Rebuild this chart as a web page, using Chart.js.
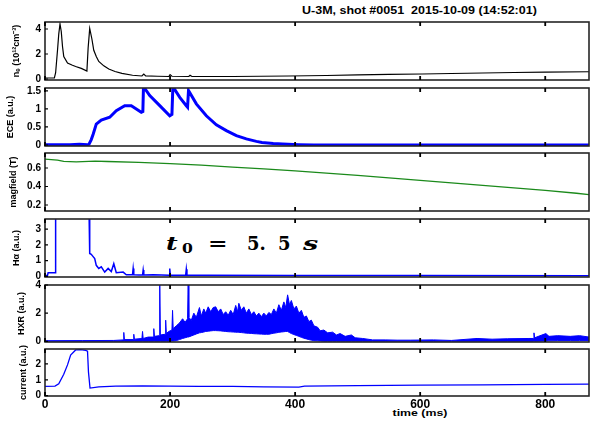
<!DOCTYPE html>
<html><head><meta charset="utf-8">
<script src="https://cdn.jsdelivr.net/npm/chart.js@4.4.1/dist/chart.umd.min.js"></script>
<style>
html,body{margin:0;padding:0;background:#fff;}
#wrap{position:relative;width:591px;height:421px;overflow:hidden;background:#fff;}
#wrap canvas{position:absolute;left:0;}
.txt{position:absolute;white-space:pre;color:#000;font-family:"Liberation Sans",Arial,sans-serif;font-weight:bold;}
.ann{position:absolute;white-space:pre;color:#000;font-family:"DejaVu Serif","Liberation Serif",serif;font-weight:bold;transform-origin:left top;}
</style></head><body>
<div id="wrap">
  <div class="txt" id="title" style="left:302px;top:6px;font-size:10px;line-height:10px;transform:scaleX(1.25);transform-origin:left top;">U-3M, shot #0051  2015-10-09 (14:52:01)</div>
  <div class="txt" id="xtitle" style="left:420px;top:408px;font-size:9.5px;line-height:10px;transform:translateX(-50%) scaleX(1.3);">time (ms)</div>
  <span class="ann" style="left:166px;top:235px;font-size:18px;line-height:18px;font-style:italic;transform:scaleX(1.4);">t</span>
  <span class="ann" style="left:182px;top:243px;font-size:12px;line-height:12px;transform:scaleX(1.3);">0</span>
  <span class="ann" style="left:208px;top:235px;font-size:18px;line-height:18px;transform:scaleX(1.3);">=</span>
  <span class="ann" style="left:247px;top:235px;font-size:18px;line-height:18px;">5.</span>
  <span class="ann" style="left:278px;top:235px;font-size:18px;line-height:18px;">5</span>
  <span class="ann" style="left:303px;top:235px;font-size:18px;line-height:18px;font-style:italic;transform:scaleX(1.5);">s</span>
</div>
<script>
// ---------- shared x axis ----------
const xTicks = [0, 200, 400, 600, 800];
const xTickLabels = ['0', '200', '400', '600', '800'];

// ---------- panel 1: electron density ----------
const neTime = [0, 15, 17, 20, 22, 24, 26, 28, 30, 36,
                43, 49, 58, 67, 69, 71.5, 75, 78, 82, 86,
                94, 102, 112, 123, 140, 155, 158, 161, 180, 198,
                200, 203, 230, 232, 235, 300, 390, 450, 500, 550,
                603, 650, 700, 750, 800, 870];
const neVal  = [0.08, 0.08, 0.5, 2.3, 3.6, 4.4, 3.8, 2.6, 1.8, 1.28,
                1.12, 1.0, 0.85, 0.64, 2.5, 4.05, 3.2, 2.3, 1.8, 1.4,
                1.05, 0.8, 0.6, 0.45, 0.3, 0.24, 0.4, 0.25, 0.22, 0.2,
                0.35, 0.22, 0.2, 0.3, 0.2, 0.2, 0.24, 0.28, 0.33, 0.37,
                0.4, 0.44, 0.48, 0.52, 0.55, 0.58];
const neTicks = [0, 2, 4];
const neTickLabels = ['0', '2', '4'];

// ---------- panel 2: ECE ----------
const eceTime = [0, 40, 55, 68, 70.4, 74, 77, 82, 90, 103.5,
                 114, 127.5, 138, 146, 154, 156.5, 157.5, 167.5, 183.5, 199.5,
                 203, 204.5, 215.5, 226, 228, 229.5, 242, 258, 274, 290,
                 306, 322, 338, 347, 365, 380, 406, 430, 870];
const eceVal  = [0.01, 0.01, 0.02, 0.01, 0.02, 0.15, 0.3, 0.58, 0.69, 0.77,
                 0.95, 1.09, 1.09, 1.0, 0.91, 0.93, 1.62, 1.37, 1.09, 0.81,
                 0.85, 1.62, 1.32, 1.09, 1.05, 1.51, 1.14, 0.81, 0.56, 0.4,
                 0.26, 0.17, 0.1, 0.07, 0.04, 0.03, 0.01, 0, 0];
const eceTicks = [0, 0.5, 1, 1.5];
const eceTickLabels = ['0', '0.5', '1', '1.5'];

// ---------- panel 3: magnetic field ----------
const magTime = [0, 20, 30, 40, 50, 60, 70, 80, 100, 150,
                 200, 250, 300, 350, 400, 450, 500, 550, 600, 650,
                 700, 750, 800, 850, 870];
const magVal  = [0.695, 0.685, 0.672, 0.668, 0.665, 0.668, 0.672, 0.675, 0.670, 0.660,
                 0.648, 0.630, 0.610, 0.590, 0.568, 0.545, 0.520, 0.493, 0.467, 0.440,
                 0.413, 0.386, 0.359, 0.327, 0.312];
const magTicks = [0.2, 0.4, 0.6];
const magTickLabels = ['0.2', '0.4', '0.6'];

// ---------- panel 4: H-alpha ----------
const haTime = [0, 4, 5, 16.5, 17, 70.5, 71.5, 74, 76, 79.5,
                82, 86, 90, 95.5, 101, 106, 110, 114, 125, 130,
                140, 141, 142, 150, 156, 157, 158, 173, 199, 199.5,
                200.5, 225, 226, 227, 260, 400, 600, 870];
const haVal  = [0.05, 0.05, 0.23, 0.23, 4.0, 4.0, 1.45, 1.4, 1.3, 1.13,
                0.7, 0.5, 0.6, 0.27, 0.5, 0.3, 0.8, 0.23, 0.27, 0.1,
                0.12, 0.5, 0.1, 0.08, 0.08, 0.4, 0.08, 0.1, 0.07, 0.5,
                0.07, 0.07, 0.45, 0.07, 0.06, 0.05, 0.05, 0.04];
const haTicks = [0, 1, 2, 3];
const haTickLabels = ['0', '1', '2', '3'];

// ---------- panel 5: HXR (upper / lower envelope of the noisy signal) ----------
const hxrTime = [0, 60, 110, 125, 126, 127, 141, 142, 143, 155,
                 156, 157, 165, 173, 174, 175, 182.5, 183.5, 184.5, 192,
                 193, 194, 198, 203, 204, 205, 210, 215, 220, 224,
                 228, 229, 230, 234, 238, 242, 247, 250, 254, 257,
                 261, 265, 269, 273, 277, 281, 285, 289, 293, 297,
                 301, 305, 308, 310, 314, 318, 322, 326, 330, 334,
                 338, 342, 346, 350, 354, 358, 362, 366, 370, 374,
                 378, 382, 385, 388, 391, 394, 398, 402, 406, 410,
                 414, 418, 422, 426, 430, 436, 440, 446, 452, 460,
                 466, 472, 480, 490, 496, 508, 524, 544, 563, 584,
                 621, 650, 691, 715, 740, 774, 781, 782, 783, 801,
                 806, 820, 840, 855, 870];
const hxrHigh = [0.04, 0.05, 0.06, 0.1, 0.63, 0.12, 0.12, 0.5, 0.15, 0.2,
                 0.7, 0.2, 0.3, 0.3, 0.9, 0.35, 0.4, 4.3, 0.45, 0.5,
                 1.5, 0.55, 0.7, 0.8, 2.2, 0.9, 1.1, 1.3, 1.6, 1.35,
                 1.6, 4.3, 1.7, 1.5, 2.0, 1.7, 2.4, 1.8, 2.3, 2.0,
                 2.45, 2.1, 2.4, 2.45, 2.1, 2.3, 1.9, 2.1, 1.85, 2.2,
                 1.9, 2.55, 2.1, 2.7, 2.2, 2.45, 2.0, 2.3, 1.9, 2.1,
                 1.8, 2.0, 1.75, 2.0, 1.8, 2.05, 1.9, 2.3, 2.0, 2.6,
                 2.2, 2.8, 2.4, 3.3, 2.6, 2.9, 2.3, 2.5, 2.0, 2.2,
                 1.7, 1.8, 1.4, 1.5, 1.1, 1.0, 0.75, 0.8, 0.6, 0.65,
                 0.45, 0.55, 0.35, 0.45, 0.25, 0.2, 0.1, 0.1, 0.08, 0.08,
                 0.1, 0.06, 0.2, 0.15, 0.18, 0.2, 0.2, 0.6, 0.25, 0.55,
                 0.35, 0.4, 0.35, 0.4, 0.3];
const hxrLow  = [0, 0, 0, 0, 0, 0, 0, 0, 0, 0,
                 0, 0, 0, 0, 0, 0, 0, 0, 0, 0,
                 0, 0, 0, 0.02, 0.02, 0.02, 0.05, 0.12, 0.2, 0.25,
                 0.3, 0.3, 0.3, 0.38, 0.45, 0.52, 0.6, 0.62, 0.66, 0.7,
                 0.72, 0.74, 0.76, 0.76, 0.75, 0.74, 0.72, 0.7, 0.68, 0.67,
                 0.66, 0.65, 0.64, 0.64, 0.62, 0.6, 0.58, 0.57, 0.56, 0.54,
                 0.53, 0.52, 0.51, 0.5, 0.5, 0.5, 0.54, 0.58, 0.6, 0.64,
                 0.66, 0.68, 0.7, 0.7, 0.62, 0.55, 0.48, 0.42, 0.35, 0.28,
                 0.22, 0.17, 0.12, 0.08, 0.05, 0.03, 0.02, 0, 0, 0,
                 0, 0, 0, 0, 0, 0, 0, 0, 0, 0,
                 0, 0, 0, 0, 0, 0, 0, 0, 0, 0.02,
                 0.03, 0.05, 0.05, 0.05, 0.05];
const hxrTicks = [0, 2, 4];
const hxrTickLabels = ['0', '2', '4'];

// ---------- panel 6: plasma current ----------
const curTime = [0, 16, 22, 30, 36, 41, 49, 57, 65, 68,
                 69.5, 72, 86, 113, 156, 200, 246, 300, 350, 406,
                 415, 500, 600, 700, 800, 870];
const curVal  = [0.58, 0.6, 0.75, 1.35, 1.94, 2.56, 2.88, 2.9, 2.85, 2.8,
                 1.5, 0.48, 0.55, 0.6, 0.62, 0.6, 0.58, 0.58, 0.56, 0.54,
                 0.6, 0.63, 0.66, 0.68, 0.71, 0.73];
const curTicks = [0, 1, 2];
const curTickLabels = ['0', '1', '2'];

// ---------- rendering ----------
const FONT = '"Liberation Sans", Arial, sans-serif';
Chart.defaults.font.family = FONT;
const BLUE = '#0000ff';

function pts(t, v) {
  const n = Math.min(t.length, v.length);
  const out = [];
  for (let i = 0; i < n; i++) out.push({x: t[i], y: v[i]});
  return out;
}
function line(t, v, color, width, extra) {
  return Object.assign({data: pts(t, v), borderColor: color, borderWidth: width,
    pointRadius: 0, tension: 0, fill: false}, extra || {});
}

const framePlugin = {
  id: 'frame',
  afterDatasetsDraw(chart) {
    const {ctx, chartArea: a, scales} = chart;
    const x = scales.x, y = scales.y;
    ctx.save();
    ctx.strokeStyle = '#262626';
    ctx.lineWidth = 1.6;
    ctx.strokeRect(a.left, a.top, a.right - a.left, a.bottom - a.top);
    ctx.strokeStyle = '#000';
    ctx.lineWidth = 1.8;
    ctx.beginPath();
    xTicks.forEach(v => {
      const px = x.getPixelForValue(v);
      ctx.moveTo(px, a.top); ctx.lineTo(px, a.top + 4);
      ctx.moveTo(px, a.bottom); ctx.lineTo(px, a.bottom - 4);
    });
    ctx.stroke();
    ctx.lineWidth = 1.2;
    ctx.beginPath();
    y.ticks.forEach(t => {
      const py = y.getPixelForValue(t.value);
      ctx.moveTo(a.left, py); ctx.lineTo(a.left + 3, py);
    });
    ctx.stroke();
    ctx.restore();
  }
};

const wrap = document.getElementById('wrap');
function makePanel(p) {
  const PAD = 10, XH = 26;
  const last = !!p.showX;
  const c = document.createElement('canvas');
  c.width = 591;
  c.height = PAD + (p.bottom - p.top) + (last ? XH : PAD);
  c.style.top = (p.top - PAD) + 'px';
  wrap.appendChild(c);
  new Chart(c, {
    type: 'line',
    data: {datasets: p.datasets},
    options: {
      responsive: false, animation: false, devicePixelRatio: 1,
      layout: {padding: {left: 0, right: 2, top: PAD, bottom: last ? 0 : PAD}},
      plugins: {legend: {display: false}, tooltip: {enabled: false}},
      scales: {
        x: {
          type: 'linear', min: 0, max: 870, display: last,
          afterBuildTicks: s => { s.ticks = xTicks.map(v => ({value: v})); },
          afterFit: s => { if (last) s.height = XH; },
          grid: {display: false, drawTicks: false}, border: {display: false},
          ticks: {padding: 1, color: '#000', autoSkip: false, maxRotation: 0,
                  font: {family: FONT, size: 12, weight: 'bold'},
                  callback: (v, i) => xTickLabels[i]}
        },
        y: {
          type: 'linear', min: p.min, max: p.max,
          afterBuildTicks: s => { s.ticks = p.ticks.map(v => ({value: v})); },
          afterFit: s => { s.width = 45; },
          grid: {display: false, drawTicks: false}, border: {display: false},
          ticks: {padding: 4, color: '#000', autoSkip: false,
                  font: {family: FONT, size: 10, weight: 'bold'},
                  callback: (v, i) => p.labels[i]},
          title: {display: true, text: p.title, color: '#000',
                  font: {family: FONT, size: 9, weight: 'bold'},
                  padding: {top: p.tpad, bottom: 0}}
        }
      }
    },
    plugins: [framePlugin]
  });
}

makePanel({top: 22, bottom: 80, min: -0.08, max: 4.56, ticks: neTicks, labels: neTickLabels,
  title: 'n\u2091 (10\u00B9\u00B2cm\u207B\u00B3)', tpad: 11,
  datasets: [line(neTime, neVal, '#000', 1.2)]});
makePanel({top: 88, bottom: 146, min: -0.028, max: 1.58, ticks: eceTicks, labels: eceTickLabels,
  title: 'ECE (a.u.)', tpad: 5.5,
  datasets: [line(eceTime, eceVal, BLUE, 3)]});
makePanel({top: 153, bottom: 211, min: 0.135, max: 0.762, ticks: magTicks, labels: magTickLabels,
  title: 'magfield (T)', tpad: 8.5,
  datasets: [line(magTime, magVal, '#1b8a1b', 1.3)]});
makePanel({top: 219, bottom: 277, min: -0.045, max: 3.65, ticks: haTicks, labels: haTickLabels,
  title: 'H\u03B1 (a.u.)', tpad: 11,
  datasets: [line(haTime, haVal, BLUE, 1.5)]});
makePanel({top: 285, bottom: 342, min: -0.05, max: 4.0, ticks: hxrTicks, labels: hxrTickLabels,
  title: 'HXR (a.u.)', tpad: 16.5,
  datasets: [line(hxrTime, hxrLow, BLUE, 1),
             line(hxrTime, hxrHigh, BLUE, 1, {fill: '-1', backgroundColor: BLUE})]});
makePanel({top: 349, bottom: 396, min: -0.02, max: 2.94, ticks: curTicks, labels: curTickLabels,
  title: 'current (a.u.)', tpad: 18.5, showX: true,
  datasets: [line(curTime, curVal, BLUE, 1.3)]});
</script>
</body></html>
